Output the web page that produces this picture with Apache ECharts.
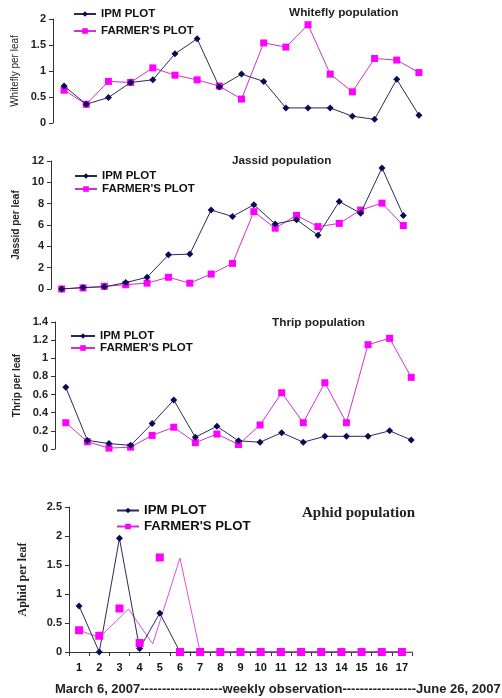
<!DOCTYPE html>
<html>
<head>
<meta charset="utf-8">
<script src="https://cdn.jsdelivr.net/npm/echarts@6/dist/echarts.min.js"></script>
<style>
  html, body { margin: 0; padding: 0; background: #fff; }
  #main { width: 502px; height: 698px; }
</style>
</head>
<body>
<div id="main"></div>
<script>
// weekly observations, March 6 to June 26 2007
var weeks = ['1','2','3','4','5','6','7','8','9','10','11','12','13','14','15','16','17'];

var whiteflyIpm = [0.71, 0.36, 0.49, 0.78, 0.83, 1.33, 1.62, 0.69, 0.94, 0.80, 0.29, 0.29, 0.29, 0.13, 0.07, 0.84, 0.15];
var whiteflyFarmer = [0.63, 0.36, 0.80, 0.78, 1.06, 0.92, 0.83, 0.71, 0.46, 1.54, 1.46, 1.89, 0.94, 0.60, 1.24, 1.21, 0.97];

var jassidIpm = [0, 0.15, 0.2, 0.6, 1.1, 3.2, 3.27, 7.4, 6.8, 7.9, 6.1, 6.5, 5.05, 8.2, 7.1, 11.35, 6.9];
var jassidFarmer = [0, 0.1, 0.25, 0.4, 0.55, 1.1, 0.55, 1.4, 2.4, 7.25, 5.7, 6.9, 5.85, 6.15, 7.4, 8.05, 5.95];

var thripIpm = [0.68, 0.095, 0.06, 0.04, 0.28, 0.54, 0.13, 0.25, 0.09, 0.075, 0.18, 0.075, 0.14, 0.14, 0.14, 0.2, 0.1];
var thripFarmer = [0.29, 0.08, 0.01, 0.02, 0.15, 0.24, 0.07, 0.165, 0.05, 0.265, 0.62, 0.29, 0.73, 0.29, 1.15, 1.22, 0.79];

var aphidIpm = [0.795, 0, 1.96, 0.06, 0.67, 0, 0, 0, 0, 0, 0, 0, 0, 0, 0, 0, 0];
var aphidFarmer = [0.375, 0.28, 0.75, 0.155, 1.63, 0, 0, 0, 0, 0, 0, 0, 0, 0, 0, 0, 0];
// the farmer line in the aphid panel is drawn offset from its markers
var aphidFarmerLineX = [1, 2, 3.45, 4.65, 6, 7, 20.65];
var aphidFarmerLineY = [0.375, 0.25, 0.74, 0.14, 1.62, 0, 0];

var legendNames = ['IPM PLOT', "FARMER'S PLOT"];

var chart = echarts.init(document.getElementById('main'));

var ipmColor = '#0a0a55';
var ipmLine = '#2a2a55';
var farmerColor = '#ff00ff';
var farmerLine = '#d030d0';
var axisColor = '#333';
var font = 'Liberation Sans, Arial, sans-serif';
var serif = 'Liberation Serif, Times New Roman, serif';

function yAxis(grid, max, step, name, nameStyle, gap) {
    return {
        type: 'value',
        gridIndex: grid,
        min: 0,
        max: max,
        interval: step,
        name: name,
        nameLocation: 'middle',
        nameRotate: 90,
        nameGap: gap,
        nameTextStyle: nameStyle,
        splitLine: {show: false},
        axisLine: {show: true, lineStyle: {color: axisColor, width: 1}},
        axisTick: {show: true, length: 4, lineStyle: {color: axisColor}},
        axisLabel: {
            margin: 7,
            color: '#222',
            fontFamily: font,
            fontWeight: 'bold',
            fontSize: 11
        }
    };
}

function hiddenX(grid) {
    return {
        type: 'category',
        gridIndex: grid,
        data: weeks,
        axisLine: {show: false},
        axisTick: {show: false},
        axisLabel: {show: false},
        splitLine: {show: false}
    };
}

function ipmSeries(idx, data) {
    return {
        name: 'IPM PLOT',
        type: 'line',
        xAxisIndex: idx,
        yAxisIndex: idx,
        data: data,
        symbol: 'diamond',
        symbolSize: 7,
        itemStyle: {color: ipmColor},
        lineStyle: {color: ipmLine, width: 1},
        z: 3
    };
}

function farmerSeries(idx, data) {
    return {
        name: "FARMER'S PLOT",
        type: 'line',
        xAxisIndex: idx,
        yAxisIndex: idx,
        data: data,
        symbol: 'rect',
        symbolSize: 7,
        itemStyle: {color: farmerColor},
        lineStyle: {color: farmerLine, width: 1},
        z: 2
    };
}

function legend(left, top, gap, size, w) {
    return {
        data: legendNames,
        orient: 'vertical',
        left: left,
        top: top,
        itemWidth: w,
        itemHeight: 7,
        itemGap: gap,
        padding: 0,
        selectedMode: false,
        textStyle: {
            fontFamily: font,
            fontWeight: 'bold',
            fontSize: size,
            color: '#111'
        }
    };
}

function title(text, left, top, fam, size) {
    return {
        text: text,
        left: left,
        top: top,
        padding: 0,
        textStyle: {
            fontFamily: fam,
            fontWeight: 'bold',
            fontSize: size,
            color: '#222'
        }
    };
}

var sansName = {fontFamily: font, fontSize: 10, color: '#222'};
var boldName = {fontFamily: font, fontSize: 10, fontWeight: 'bold', color: '#222'};

var option = {
    backgroundColor: '#fff',
    animation: false,
    title: [
        title('Whitefly population', 289, 7, font, 11.8),
        title('Jassid population', 232, 155, font, 11.7),
        title('Thrip population', 272, 317, font, 11.8),
        title('Aphid population', 302, 506, serif, 15),
        title('March 6, 2007-------------------weekly observation-----------------June 26, 2007', 55, 683, font, 13)
    ],
    legend: [
        legend(73, 8, 5, 11.5, 22),
        legend(74, 170, 1, 11.5, 22),
        legend(70, 330, 0, 11.5, 24),
        legend(116, 504, 3, 13.2, 22)
    ],
    grid: [
        {left: 53, top: 19, width: 377, height: 104},
        {left: 51, top: 161, width: 363, height: 128},
        {left: 55, top: 322, width: 367, height: 127},
        {left: 69, top: 507, width: 343, height: 145}
    ],
    xAxis: [
        hiddenX(0),
        hiddenX(1),
        hiddenX(2),
        {
            type: 'category',
            gridIndex: 3,
            data: weeks,
            axisLine: {show: true, lineStyle: {color: axisColor, width: 1}},
            axisTick: {show: true, length: 4, lineStyle: {color: axisColor}},
            axisLabel: {
                margin: 10,
                color: '#111',
                fontFamily: font,
                fontWeight: 'bold',
                fontSize: 11
            },
            splitLine: {show: false}
        },
        {
            type: 'value',
            gridIndex: 3,
            min: 0.5,
            max: 17.5,
            show: false
        }
    ],
    yAxis: [
        yAxis(0, 2, 0.5, 'Whitefly per leaf', sansName, 29),
        yAxis(1, 12, 2, 'Jassid per leaf', boldName, 28),
        yAxis(2, 1.4, 0.2, 'Thrip per leaf', boldName, 32),
        yAxis(3, 2.5, 0.5, 'Aphid per leaf', {fontFamily: serif, fontSize: 12, fontWeight: 'bold', color: '#222'}, 40)
    ],
    series: [
        ipmSeries(0, whiteflyIpm),
        farmerSeries(0, whiteflyFarmer),
        ipmSeries(1, jassidIpm),
        farmerSeries(1, jassidFarmer),
        ipmSeries(2, thripIpm),
        farmerSeries(2, thripFarmer),
        ipmSeries(3, aphidIpm),
        {
            name: "FARMER'S PLOT",
            type: 'line',
            xAxisIndex: 3,
            yAxisIndex: 3,
            data: aphidFarmer,
            symbol: 'rect',
            symbolSize: 8,
            itemStyle: {color: farmerColor},
            lineStyle: {width: 0, opacity: 0},
            z: 4
        },
        {
            name: "FARMER'S PLOT",
            type: 'line',
            xAxisIndex: 4,
            yAxisIndex: 3,
            data: aphidFarmerLineX.map(function (x, i) { return [x, aphidFarmerLineY[i]]; }),
            showSymbol: false,
            symbol: 'none',
            clip: false,
            lineStyle: {color: '#e050e0', width: 1},
            z: 1
        }
    ]
};

chart.setOption(option);
</script>
</body>
</html>
